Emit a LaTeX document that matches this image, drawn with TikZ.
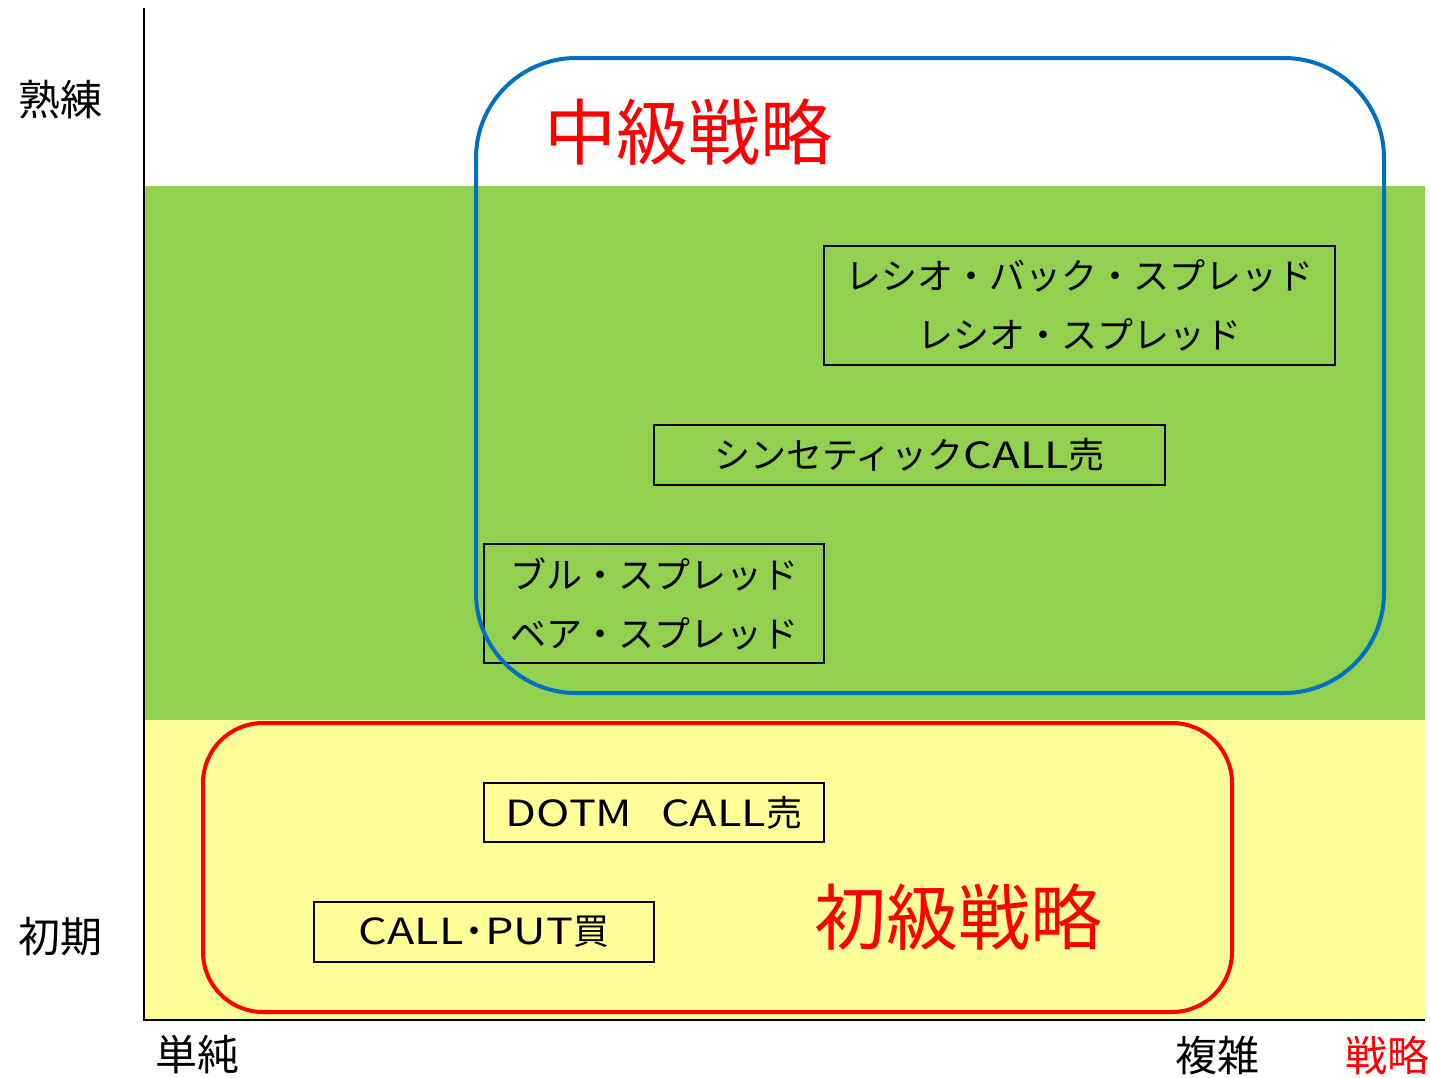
\documentclass[tikz,border=0pt]{standalone}
\usepackage{fontspec}
\setmainfont{Noto Sans CJK JP}
\newfontfamily\jp{Noto Sans CJK JP}
\definecolor{bandgreen}{HTML}{92D050}
\definecolor{bandyellow}{HTML}{FFFF99}
\definecolor{frameblue}{HTML}{0070C0}
\newcommand{\wlat}[1]{\scalebox{1.25}[1]{#1}}
\begin{document}
\begin{tikzpicture}[x=1pt,y=-1pt,
  itembox/.style={draw=black,line width=1.8pt,inner sep=0pt,align=center,font=\jp\fontsize{36}{59}\selectfont},
  axislabel/.style={font=\jp\fontsize{42}{48}\selectfont,inner sep=0pt},
  biglabel/.style={font=\jp\fontsize{72}{80}\selectfont,text=red,inner sep=0pt}]
\useasboundingbox (0,0) rectangle (1430,1077);
\fill[white] (0,0) rectangle (1430,1077);
% bands
\fill[bandgreen] (144,186) rectangle (1425,720);
\fill[bandyellow] (144,720) rectangle (1425,1020);
% axes
\coordinate (otop) at (144,8);
\coordinate (orig) at (144,1020);
\coordinate (xend) at (1425,1020);
\draw[line width=2pt] (otop) -- (orig) -- (xend);
% item boxes
\node[itembox,minimum width=511pt,minimum height=119pt] (ratio) at (1079.5,305.5) {レシオ・バック・スプレッド\\レシオ・スプレッド};
\node[itembox,minimum width=511pt,minimum height=60pt] (synth) at (909.5,455) {シンセティック\wlat{CALL}売};
\node[itembox,minimum width=340pt,minimum height=119pt] (bull) at (654,603.5) {ブル・スプレッド\\ベア・スプレッド};
\node[itembox,minimum width=340pt,minimum height=59pt] (dotm) at (654,812.5) {\wlat{DOTM}\hspace{0.8em}\wlat{CALL}売};
\node[itembox,minimum width=340pt,minimum height=60pt] (callput) at (484,932) {\wlat{CALL}\hspace{-0.2em}・\hspace{-0.2em}\wlat{PUT}買};
% frames
\draw[frameblue,line width=4pt,rounded corners=100pt] (476,58) rectangle (1384,693);
\draw[red,line width=4pt,rounded corners=60pt] (203,723) rectangle (1232,1012);
% labels
\node[biglabel] (mid) at (688,132) {中級戦略};
\node[biglabel] (beg) at (958,917) {初級戦略};
\node[axislabel] (jukuren) at (60,100) {熟練};
\node[axislabel] (shoki) at (60,937) {初期};
\node[axislabel] (tanjun) at (197,1055) {単純};
\node[axislabel] (fukuzatsu) at (1217,1055) {複雑};
\node[axislabel,text=red] (senryaku) at (1387,1055) {戦略};
\end{tikzpicture}
\end{document}
